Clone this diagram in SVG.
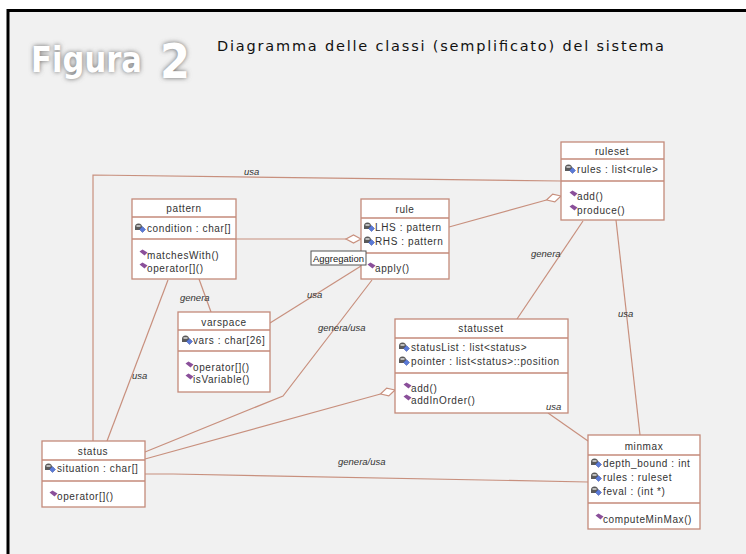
<svg xmlns="http://www.w3.org/2000/svg" width="746" height="554" viewBox="0 0 746 554">
<defs>
<style>
.box{fill:#ffffff;stroke:#c48a7a;stroke-width:1.3}
.div{stroke:#c48a7a;stroke-width:1.3}
.con{fill:none;stroke:#c8907e;stroke-width:1.2}
.dia{fill:#ffffff;stroke:#c8907e;stroke-width:1.2}
.t{font-family:"Liberation Sans",Arial,sans-serif;font-size:10px;fill:#333333;letter-spacing:0.6px}
.h{text-anchor:middle}
.lbl{font-family:"Liberation Sans",Arial,sans-serif;font-size:9.5px;font-style:italic;fill:#333333}
.fig{font-family:"DejaVu Sans",Verdana,sans-serif;font-weight:bold}
</style>
<symbol id="attr" viewBox="0 0 12 11">
<path d="M1,5 A3.5,3.5 0 1 1 8,5 L8,8 L1,8 Z" fill="#5a5a5a"/>
<rect x="2.5" y="3" width="4" height="2" fill="#bbbbbb"/>
<path d="M8.5,4.5 L11.5,7.5 L8.5,10.5 L5.5,7.5 Z" fill="#5a7ad8" stroke="#3a50a0" stroke-width="0.5"/>
</symbol>
<symbol id="op" viewBox="0 0 9 7">
<path d="M0.5,2.5 L3.5,0.5 L8.5,3.5 L5.5,6.5 Z" fill="#8a4f9a"/>
</symbol>
<filter id="blur" x="-20%" y="-30%" width="140%" height="160%">
<feGaussianBlur stdDeviation="2.5"/>
</filter>
</defs>
<rect x="0" y="0" width="746" height="554" fill="#ffffff"/>
<rect x="8" y="10.5" width="760" height="560" fill="#f1f1f1" stroke="#000000" stroke-width="3"/>
<g id="title">
<g filter="url(#blur)" fill="#6a6a6a" class="fig">
<text x="31" y="72" font-size="35" textLength="111" lengthAdjust="spacingAndGlyphs">Figura</text>
<text x="160" y="78" font-size="48" textLength="30" lengthAdjust="spacingAndGlyphs">2</text>
</g>
<g fill="#ffffff" class="fig">
<text x="31" y="72" font-size="35" textLength="111" lengthAdjust="spacingAndGlyphs">Figura</text>
<text x="160" y="78" font-size="48" textLength="30" lengthAdjust="spacingAndGlyphs">2</text>
</g>
<text x="217" y="51" font-family="DejaVu Sans,Verdana,sans-serif" font-size="14.5" fill="#111111" textLength="447" lengthAdjust="spacing">Diagramma delle classi (semplificato) del sistema</text>
</g>
<g id="connectors">
<polyline class="con" points="93,441 93,175 561,181"/>
<text class="lbl" x="244" y="175">usa</text>
<line class="con" x1="236" y1="239" x2="346" y2="239"/>
<polygon class="dia" points="361,239 353.5,235 346,239 353.5,243"/>
<line class="con" x1="449" y1="227" x2="546.5" y2="200"/>
<polygon class="dia" points="561,196 554.8,201.9 546.5,200 552.7,194.1"/>
<line class="con" x1="199" y1="279" x2="211" y2="312"/>
<text class="lbl" x="180" y="301">genera</text>
<line class="con" x1="270" y1="323" x2="361" y2="266"/>
<text class="lbl" x="307" y="298">usa</text>
<polyline class="con" points="145,452 283,396 372,280"/>
<text class="lbl" x="318" y="331">genera/usa</text>
<line class="con" x1="145" y1="459" x2="380.5" y2="394"/>
<polygon class="dia" points="395,390 388.8,395.9 380.5,394 386.7,388.1"/>
<line class="con" x1="107" y1="441" x2="168" y2="280"/>
<text class="lbl" x="132" y="379">usa</text>
<polyline class="con" points="145,474 173,474 588,482"/>
<text class="lbl" x="338" y="465">genera/usa</text>
<line class="con" x1="583" y1="221" x2="517" y2="319"/>
<text class="lbl" x="531" y="257">genera</text>
<line class="con" x1="616" y1="220" x2="640" y2="435"/>
<text class="lbl" x="618" y="317">usa</text>
<line class="con" x1="548" y1="413" x2="588" y2="441"/>
</g>
<g id="pattern">
<rect class="box" x="132" y="199" width="104" height="80"/>
<line class="div" x1="132" y1="217" x2="236" y2="217"/>
<line class="div" x1="132" y1="239" x2="236" y2="239"/>
<text class="t h" x="184" y="212">pattern</text>
<use href="#attr" x="134" y="222" width="12" height="11"/>
<text class="t" x="147" y="232">condition : char[]</text>
<use href="#op" x="139" y="249" width="9" height="7"/>
<text class="t" x="147" y="259">matchesWith()</text>
<use href="#op" x="139" y="262" width="9" height="7"/>
<text class="t" x="147" y="272">operator[]()</text>
</g>
<g id="rule">
<rect class="box" x="361" y="199" width="88" height="80"/>
<line class="div" x1="361" y1="218" x2="449" y2="218"/>
<line class="div" x1="361" y1="253" x2="449" y2="253"/>
<text class="t h" x="405" y="213">rule</text>
<use href="#attr" x="363" y="221" width="12" height="11"/>
<text class="t" x="375" y="231">LHS : pattern</text>
<use href="#attr" x="363" y="235" width="12" height="11"/>
<text class="t" x="375" y="245">RHS : pattern</text>
<use href="#op" x="367" y="262" width="9" height="7"/>
<text class="t" x="375" y="272">apply()</text>
</g>
<g id="ruleset">
<rect class="box" x="561" y="142" width="103" height="78"/>
<line class="div" x1="561" y1="159" x2="664" y2="159"/>
<line class="div" x1="561" y1="181" x2="664" y2="181"/>
<text class="t h" x="612" y="155">ruleset</text>
<use href="#attr" x="564" y="163" width="12" height="11"/>
<text class="t" x="577" y="173">rules : list&lt;rule&gt;</text>
<use href="#op" x="569" y="190" width="9" height="7"/>
<text class="t" x="577" y="200">add()</text>
<use href="#op" x="569" y="204" width="9" height="7"/>
<text class="t" x="577" y="214">produce()</text>
</g>
<g id="varspace">
<rect class="box" x="178" y="312" width="92" height="80"/>
<line class="div" x1="178" y1="330" x2="270" y2="330"/>
<line class="div" x1="178" y1="351" x2="270" y2="351"/>
<text class="t h" x="224" y="326">varspace</text>
<use href="#attr" x="181" y="334" width="12" height="11"/>
<text class="t" x="193" y="344">vars : char[26]</text>
<use href="#op" x="185" y="361" width="9" height="7"/>
<text class="t" x="193" y="371">operator[]()</text>
<use href="#op" x="185" y="373" width="9" height="7"/>
<text class="t" x="193" y="383">isVariable()</text>
</g>
<g id="statusset">
<rect class="box" x="395" y="319" width="173" height="94"/>
<line class="div" x1="395" y1="338" x2="568" y2="338"/>
<line class="div" x1="395" y1="373" x2="568" y2="373"/>
<text class="t h" x="481" y="332">statusset</text>
<use href="#attr" x="398" y="341" width="12" height="11"/>
<text class="t" x="411" y="351">statusList : list&lt;status&gt;</text>
<use href="#attr" x="398" y="355" width="12" height="11"/>
<text class="t" x="411" y="365">pointer : list&lt;status&gt;::position</text>
<use href="#op" x="403" y="382" width="9" height="7"/>
<text class="t" x="411" y="392">add()</text>
<use href="#op" x="403" y="394" width="9" height="7"/>
<text class="t" x="411" y="404">addInOrder()</text>
<text class="lbl" x="546" y="410">usa</text>
</g>
<g id="status">
<rect class="box" x="42" y="441" width="103" height="66"/>
<line class="div" x1="42" y1="460" x2="145" y2="460"/>
<line class="div" x1="42" y1="481" x2="145" y2="481"/>
<text class="t h" x="93" y="455">status</text>
<use href="#attr" x="44" y="462" width="12" height="11"/>
<text class="t" x="57" y="472">situation : char[]</text>
<use href="#op" x="49" y="490" width="9" height="7"/>
<text class="t" x="57" y="500">operator[]()</text>
</g>
<g id="minmax">
<rect class="box" x="588" y="435" width="112" height="94"/>
<line class="div" x1="588" y1="455" x2="700" y2="455"/>
<line class="div" x1="588" y1="503" x2="700" y2="503"/>
<text class="t h" x="644" y="450">minmax</text>
<use href="#attr" x="590" y="457" width="12" height="11"/>
<text class="t" x="603" y="467">depth_bound : int</text>
<use href="#attr" x="590" y="471" width="12" height="11"/>
<text class="t" x="603" y="481">rules : ruleset</text>
<use href="#attr" x="590" y="485" width="12" height="11"/>
<text class="t" x="603" y="495">feval : (int *)</text>
<use href="#op" x="595" y="513" width="9" height="7"/>
<text class="t" x="603" y="523">computeMinMax()</text>
</g>
<g id="tooltip">
<rect x="311" y="251" width="55" height="14" fill="#ffffff" stroke="#555555" stroke-width="1"/>
<text x="313" y="261.5" font-family="Liberation Sans,Arial,sans-serif" font-size="9" fill="#222222" textLength="51" lengthAdjust="spacingAndGlyphs">Aggregation</text>
</g>
</svg>
